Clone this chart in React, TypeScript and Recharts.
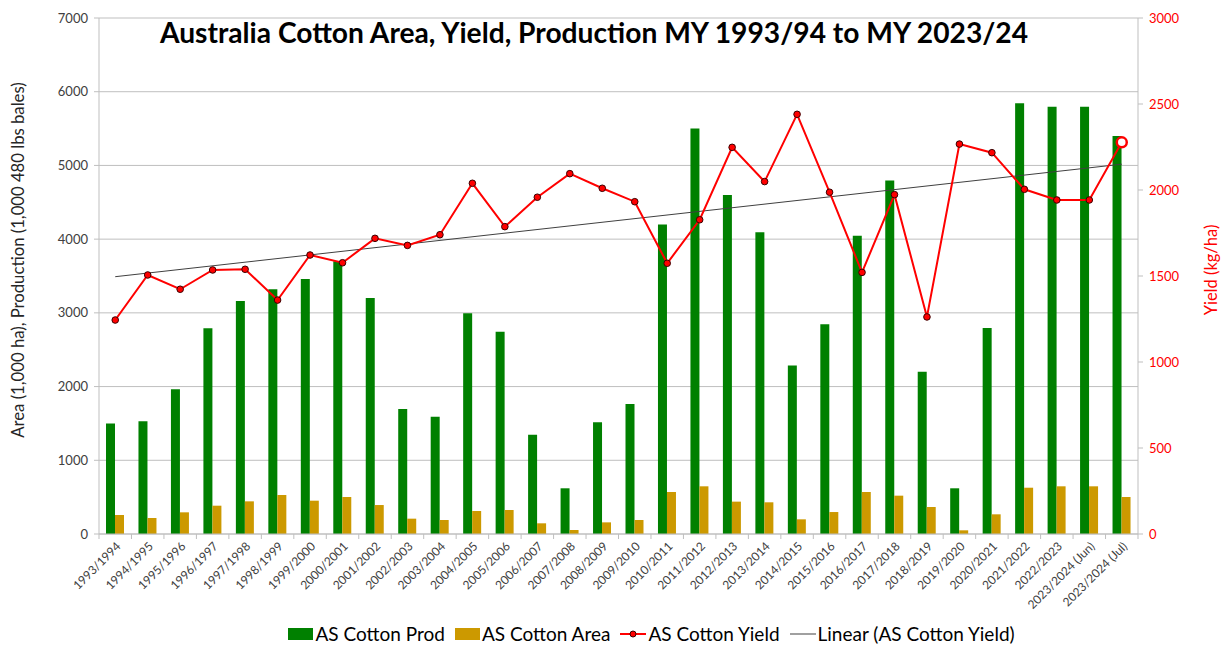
import React from 'react';
import { ComposedChart, Bar, Line, XAxis, YAxis, CartesianGrid, Legend } from 'recharts';

const categories = ['1993/1994','1994/1995','1995/1996','1996/1997','1997/1998','1998/1999','1999/2000','2000/2001','2001/2002','2002/2003','2003/2004','2004/2005','2005/2006','2006/2007','2007/2008','2008/2009','2009/2010','2010/2011','2011/2012','2012/2013','2013/2014','2014/2015','2015/2016','2016/2017','2017/2018','2018/2019','2019/2020','2020/2021','2021/2022','2022/2023','2023/2024 (Jun)','2023/2024 (Jul)'];
const prodValues = [1500,1530,1965,2790,3160,3320,3460,3700,3200,1695,1590,2995,2745,1345,620,1515,1765,4200,5500,4600,4095,2285,2845,4045,4795,2200,620,2795,5845,5795,5795,5400];
const areaValues = [258,217,294,384,443,529,452,502,393,208,190,312,326,145,54,158,190,570,647,439,430,199,298,570,520,366,50,267,628,647,647,502];
const yieldValues = [1244,1506,1423,1535,1539,1360,1622,1577,1719,1678,1740,2039,1787,1958,2095,2010,1932,1574,1827,2248,2049,2440,1987,1521,1973,1262,2267,2217,2004,1942,1942,2277];
const trendStart = 1496;
const trendEnd = 2150;
const leftTicks = [0,1000,2000,3000,4000,5000,6000,7000];
const rightTicks = [0,500,1000,1500,2000,2500,3000];

const data = categories.map((c, i) => ({
  cat: c,
  prod: prodValues[i],
  area: areaValues[i],
  yld: yieldValues[i],
  trend: i === 0 ? trendStart : i === categories.length - 1 ? trendEnd : null,
}));

const FONT = 'Lato, "Open Sans", sans-serif';
const GREEN = '#008000';
const GOLD = '#cc9900';
const RED = '#ff0000';
const GRID = '#bfbfbf';

const XTick = (props: any) => {
  const { x, y, payload, index } = props;
  const off = payload.offset || 0;
  return (
    <g>
      <line x1={x - off} x2={x - off} y1={y - 5} y2={y} stroke={GRID} />
      {index === categories.length - 1 && (
        <line x1={x + off} x2={x + off} y1={y - 5} y2={y} stroke={GRID} />
      )}
      <text
        transform={`translate(${x + 4},${y + 6}) rotate(-45)`}
        textAnchor="end"
        fontSize={12}
        fill="#404040"
        fontFamily={FONT}
        dominantBaseline="middle"
      >
        {payload.value}
      </text>
    </g>
  );
};

const YieldDot = (props: any) => {
  const { cx, cy, index } = props;
  if (cx == null || cy == null) return null;
  if (index === categories.length - 1) {
    return <circle key={index} cx={cx} cy={cy} r={5} fill="#ffffff" stroke={RED} strokeWidth={2.5} />;
  }
  return <circle key={index} cx={cx} cy={cy} r={3.3} fill={RED} stroke="#3a0000" strokeWidth={1} />;
};

const LegendContent = () => {
  const item = (sw: React.ReactNode, label: string) => (
    <div style={{ display: 'flex', alignItems: 'center', marginRight: 10 }}>
      {sw}
      <span style={{ marginLeft: 2 }}>{label}</span>
    </div>
  );
  return (
    <div style={{ display: 'flex', justifyContent: 'center', alignItems: 'center', fontFamily: FONT, fontSize: 19, color: '#000', paddingLeft: 88, paddingTop: 6 }}>
      {item(<div style={{ width: 25, height: 12, background: GREEN }} />, 'AS Cotton Prod')}
      {item(<div style={{ width: 25, height: 12, background: GOLD }} />, 'AS Cotton Area')}
      {item(
        <svg width={26} height={12}>
          <line x1={0} x2={26} y1={6} y2={6} stroke={RED} strokeWidth={2} />
          <circle cx={13} cy={6} r={3} fill={RED} stroke="#3a0000" strokeWidth={1} />
        </svg>,
        'AS Cotton Yield'
      )}
      {item(
        <svg width={26} height={12}>
          <line x1={0} x2={26} y1={6} y2={6} stroke="#808080" strokeWidth={1.5} />
        </svg>,
        'Linear (AS Cotton Yield)'
      )}
    </div>
  );
};

export default function App() {
  return (
    <div style={{ position: 'absolute', left: 0, top: 0, width: 1225, height: 646, background: '#fff' }}>
      <ComposedChart
        width={1225}
        height={646}
        data={data}
        margin={{ top: 18, right: 0, left: 0, bottom: 0 }}
        barGap={0}
      >
        <CartesianGrid yAxisId="left" vertical={false} stroke={GRID} strokeWidth={1} />
        <XAxis
          dataKey="cat"
          height={82}
          interval={0}
          tick={<XTick />}
          tickLine={false}
          tickSize={5}
          tickMargin={0}
          axisLine={{ stroke: GRID }}
        />
        <YAxis
          yAxisId="left"
          width={99}
          domain={[0, 7000]}
          ticks={leftTicks}
          tick={{ fontSize: 13, fill: '#404040', fontFamily: FONT }}
          tickSize={5}
          tickMargin={6}
          tickLine={{ stroke: GRID }}
          axisLine={{ stroke: GRID }}
          label={{
            value: 'Area (1,000 ha), Production (1,000 480 lbs bales)',
            angle: -90,
            position: 'insideLeft',
            dx: 13,
            dy: -16,
            style: { textAnchor: 'middle', fontSize: 16.7, fill: '#262626', fontFamily: FONT },
          }}
        />
        <YAxis
          yAxisId="right"
          orientation="right"
          width={87}
          domain={[0, 3000]}
          ticks={rightTicks}
          tick={{ fontSize: 13, fill: RED, fontFamily: FONT }}
          tickSize={5}
          tickMargin={6}
          tickLine={{ stroke: GRID }}
          axisLine={{ stroke: GRID }}
          label={{
            value: 'Yield (kg/ha)',
            angle: -90,
            position: 'insideRight',
            dx: -9,
            dy: -6,
            style: { textAnchor: 'middle', fontSize: 16.5, fill: RED, fontFamily: FONT },
          }}
        />
        <Legend verticalAlign="bottom" height={30} content={<LegendContent />} />
        <Bar yAxisId="left" dataKey="prod" name="AS Cotton Prod" fill={GREEN} barSize={9} isAnimationActive={false} />
        <Bar yAxisId="left" dataKey="area" name="AS Cotton Area" fill={GOLD} barSize={9} isAnimationActive={false} />
        <Line
          yAxisId="right"
          dataKey="trend"
          name="Linear (AS Cotton Yield)"
          stroke="#404040"
          strokeWidth={1}
          dot={false}
          connectNulls
          isAnimationActive={false}
        />
        <Line
          yAxisId="right"
          dataKey="yld"
          name="AS Cotton Yield"
          stroke={RED}
          strokeWidth={2}
          dot={<YieldDot />}
          activeDot={false}
          isAnimationActive={false}
        />
      </ComposedChart>
      <div
        style={{
          position: 'absolute',
          left: 144,
          top: 15,
          width: 900,
          textAlign: 'center',
          fontFamily: FONT,
          fontWeight: 700,
          fontSize: 28.2,
          color: '#000',
          whiteSpace: 'nowrap',
        }}
      >
        Australia Cotton Area, Yield, Production MY 1993/94 to MY 2023/24
      </div>
    </div>
  );
}
